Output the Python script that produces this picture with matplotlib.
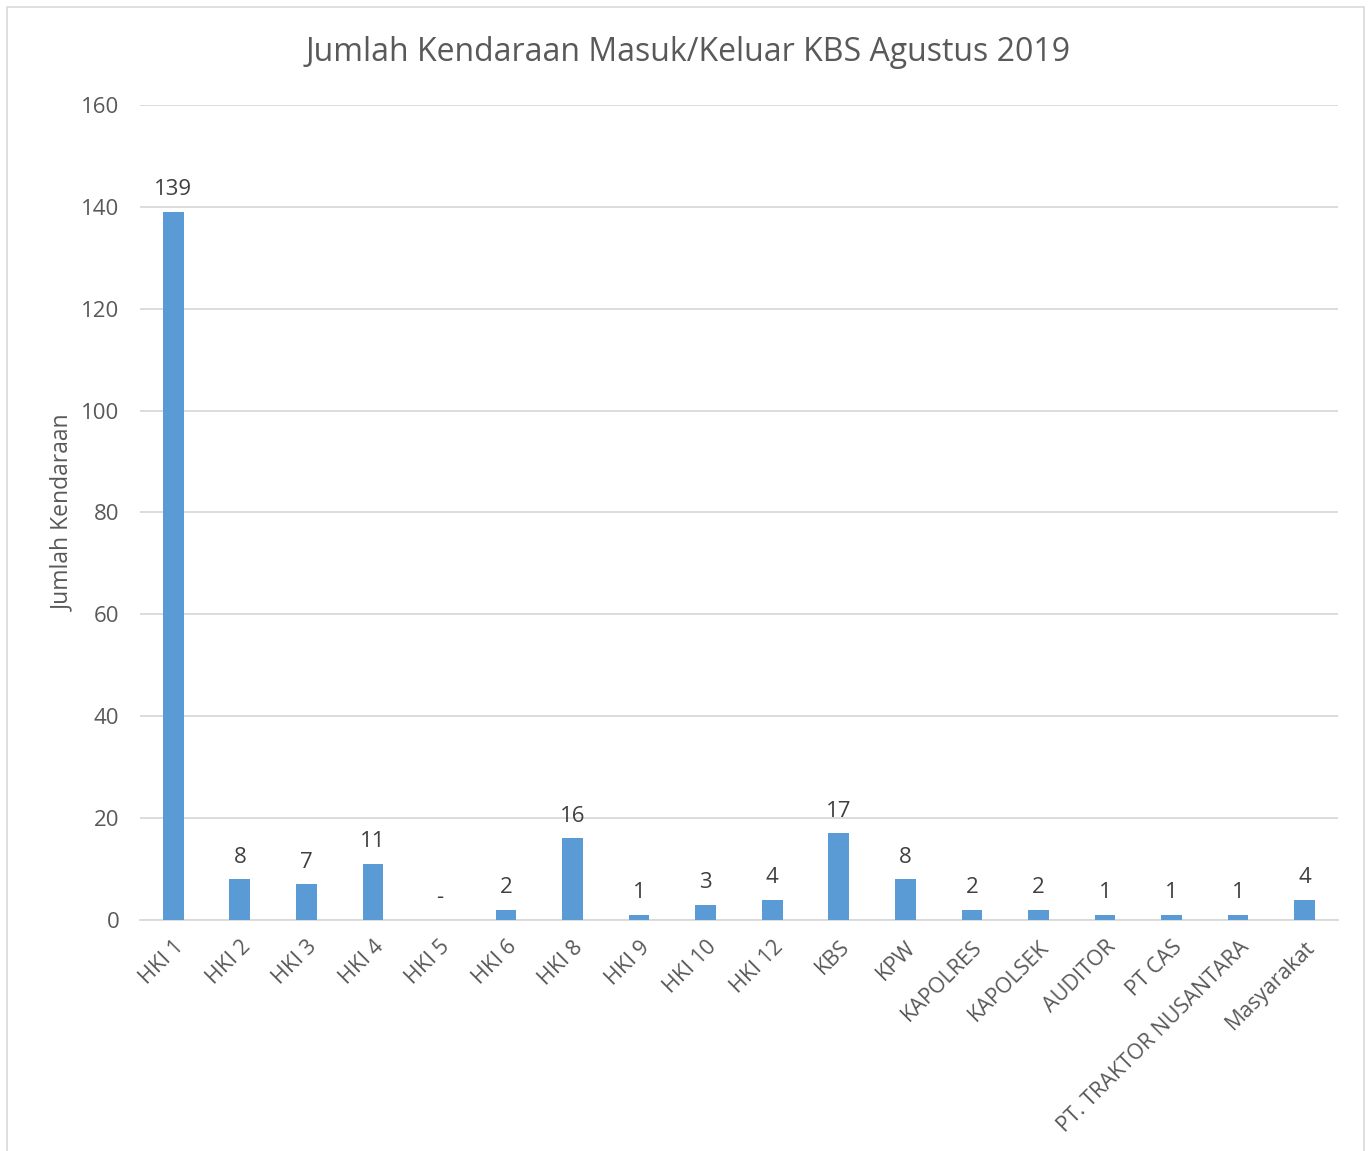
import matplotlib.pyplot as plt
from matplotlib.patches import Rectangle

categories = ['HKI 1', 'HKI 2', 'HKI 3', 'HKI 4', 'HKI 5', 'HKI 6', 'HKI 8', 'HKI 9',
              'HKI 10', 'HKI 12', 'KBS', 'KPW', 'KAPOLRES', 'KAPOLSEK', 'AUDITOR',
              'PT CAS', 'PT. TRAKTOR NUSANTARA', 'Masyarakat']
values = [139, 8, 7, 11, 0, 2, 16, 1, 3, 4, 17, 8, 2, 2, 1, 1, 1, 4]
yticks = [0, 20, 40, 60, 80, 100, 120, 140, 160]

plt.rcParams['font.family'] = ['Open Sans', 'DejaVu Sans']
text_col = '#595959'
bar_col = '#5B9BD5'
grid_col = '#D9D9D9'

fig = plt.figure(figsize=(13.71, 11.51), dpi=100)
ax = fig.add_axes([0.1021, 0.2007, 0.8738, 0.7081])

x = list(range(len(categories)))
bars = ax.bar(x, values, width=0.31, color=bar_col, zorder=3)

# data labels, zero shown as dash like excel
for xi, v in zip(x, values):
    lab = '-' if v == 0 else str(v)
    ax.text(xi, v + 2.3, lab, ha='center', va='bottom', fontsize=16, color='#404040')

ax.set_xlim(-0.5, len(categories) - 0.5)
ax.set_ylim(0, 160)
ax.set_yticks(yticks)
ax.set_xticks(x)
ax.set_xticklabels(categories, rotation=45, ha='right', rotation_mode='anchor',
                   fontsize=15.5, color=text_col)
ax.tick_params(axis='y', labelsize=16, labelcolor=text_col, length=0, pad=15)
ax.tick_params(axis='x', length=0, pad=12)
ax.grid(axis='y', color=grid_col, linewidth=1.3, zorder=0)
for s in ['top', 'right', 'left']:
    ax.spines[s].set_visible(False)
ax.spines['bottom'].set_color(grid_col)
ax.spines['bottom'].set_linewidth(1.3)

ax.set_ylabel('Jumlah Kendaraan', fontsize=16.5, color=text_col, labelpad=4)
fig.text(0.502, 0.954, 'Jumlah Kendaraan Masuk/Keluar KBS Agustus 2019',
         ha='center', va='center', fontsize=23, color=text_col)

# chart area border
fig.patches.append(Rectangle((0.005, -0.01), 0.99, 1.004, transform=fig.transFigure,
                             fill=False, edgecolor='#D9D9D9', linewidth=1.2))

fig.savefig('out.png', dpi=100)
